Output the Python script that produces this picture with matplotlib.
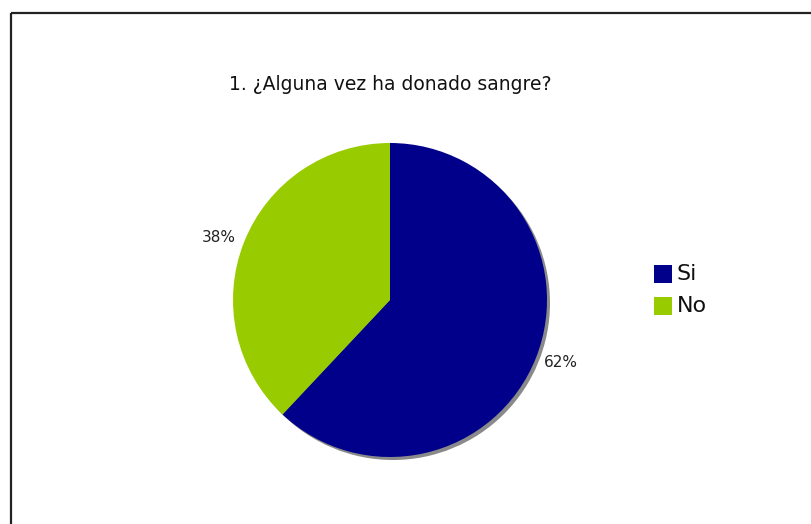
import matplotlib
matplotlib.use("Agg")
import matplotlib.pyplot as plt
from matplotlib.patches import Circle, Rectangle

categories = ["Si", "No"]
values = [62, 38]
colors = ["#00008b", "#99cc00"]
title = "1. ¿Alguna vez ha donado sangre?"

W, H = 811, 524
fig = plt.figure(figsize=(W / 100, H / 100), dpi=100)
ax = fig.add_axes([0, 0, 1, 1])
ax.set_xlim(0, W)
ax.set_ylim(0, H)

cx, cy, r = 390, H - 300, 157

# drop shadow behind the pie
ax.add_patch(Circle((cx + 3, cy - 3), r, facecolor="#8a8a8a", edgecolor="none", zorder=1))

wedges, texts, autotexts = ax.pie(
    values, colors=colors, startangle=90, counterclock=False,
    center=(cx, cy), radius=r, autopct="%d%%", pctdistance=1.16,
    textprops=dict(fontsize=11, color="#222222", family="DejaVu Sans"),
    frame=True, wedgeprops=dict(linewidth=0, zorder=2),
)
# percentage labels sit on a slightly flattened ring around the pie
for t in autotexts:
    x, y = t.get_position()
    t.set_position((cx + (x - cx) * 1.01, cy + (y - cy) * 0.93))

ax.set_xlim(0, W)
ax.set_ylim(0, H)
ax.set_aspect("auto")
ax.axis("off")

# outer frame (top and left edges visible)
ax.plot([11, W + 5], [H - 12.5, H - 12.5], color="#222222", lw=1.6, solid_capstyle="butt")
ax.plot([11, 11], [H - 12.5, -5], color="#222222", lw=1.6, solid_capstyle="butt")

ax.text(390.5, H - 84, title, ha="center", va="center", fontsize=13.5,
        color="#111111", family="DejaVu Sans")

# legend: colour squares with labels
lx, ly0, step, sq = 654, 265, 32, 17.5
for i, (name, col) in enumerate(zip(categories, colors)):
    top = ly0 + i * step
    ax.add_patch(Rectangle((lx, H - top - sq), sq, sq, facecolor=col, edgecolor="none"))
    ax.text(lx + 23, H - top - sq / 2 - 0.5, name, ha="left", va="center",
            fontsize=16, color="#111111", family="DejaVu Sans")

fig.savefig("out.png", dpi=100, facecolor="white")
